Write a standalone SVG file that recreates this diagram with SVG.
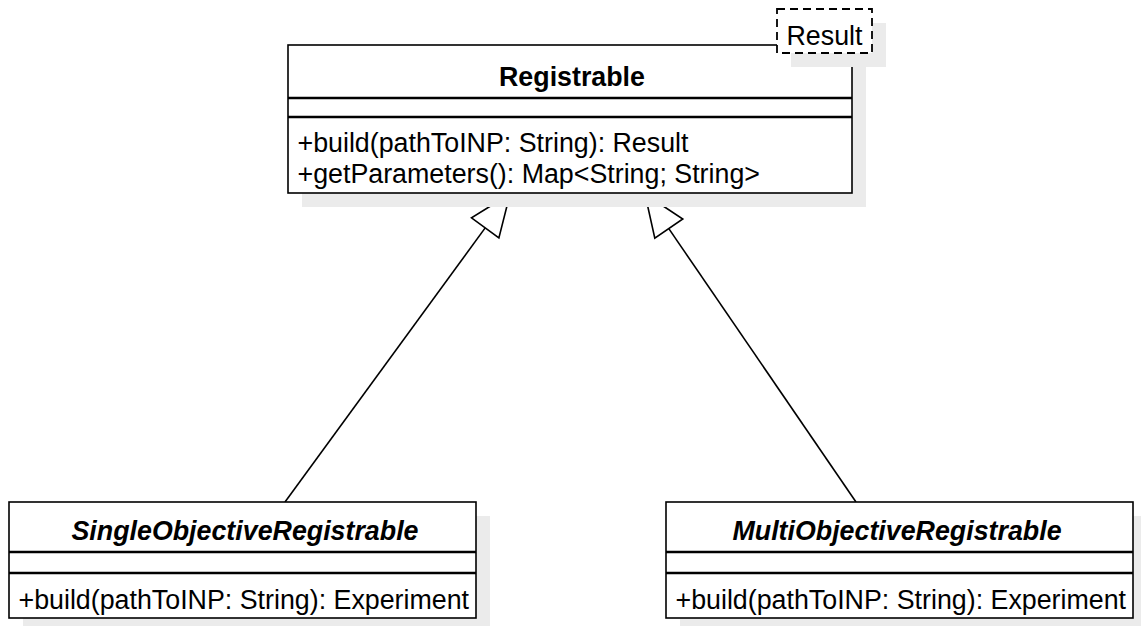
<svg xmlns="http://www.w3.org/2000/svg" width="1141" height="626" viewBox="0 0 1141 626">
<style>
.shadow{fill:#ebebeb;stroke:none}
.box{fill:#ffffff;stroke:#000000;stroke-width:1.6}
.sep{stroke:#000000;stroke-width:2.6;fill:none}
.note{fill:#ffffff;stroke:#000000;stroke-width:1.8;stroke-dasharray:8 5}
.t{font-family:"Liberation Sans",Arial,Helvetica,sans-serif;font-size:26.8px;fill:#000000}
.title{font-weight:bold;text-anchor:middle}
.ital{font-style:italic}
.edge{stroke:#000000;stroke-width:1.6;fill:none}
.head{fill:#ffffff;stroke:#000000;stroke-width:1.6;stroke-linejoin:miter}
</style>
<rect width="1141" height="626" fill="#ffffff"/>
<g id="connectors">
  <line class="edge" x1="285" y1="502" x2="485.2" y2="227.9"/>
  <polygon class="head" points="510,194 471.5,217.9 498.9,237.9"/>
  <line class="edge" x1="856" y1="502" x2="668.8" y2="228.6"/>
  <polygon class="head" points="645,194 682.8,219 654.8,238.2"/>
</g>
<g id="registrable">
  <rect class="shadow" x="302" y="59" width="564" height="148"/>
  <rect class="box" x="288" y="45" width="564" height="148"/>
  <line class="sep" x1="288" y1="98" x2="852" y2="98"/>
  <line class="sep" x1="288" y1="117" x2="852" y2="117"/>
  <text class="t title" x="572" y="86">Registrable</text>
  <text class="t" x="297.5" y="152">+build(pathToINP: String): Result</text>
  <text class="t" x="297.5" y="183">+getParameters(): Map&lt;String; String&gt;</text>
</g>
<g id="result-template">
  <rect class="shadow" x="791" y="23" width="95" height="44"/>
  <rect class="note" x="777" y="9" width="95" height="44"/>
  <text class="t" x="824.5" y="45" text-anchor="middle">Result</text>
</g>
<g id="single">
  <rect class="shadow" x="23" y="516" width="467" height="116"/>
  <rect class="box" x="9" y="502" width="467" height="116"/>
  <line class="sep" x1="9" y1="552" x2="476" y2="552"/>
  <line class="sep" x1="9" y1="573" x2="476" y2="573"/>
  <text class="t title ital" x="245" y="540">SingleObjectiveRegistrable</text>
  <text class="t" x="18.5" y="609">+build(pathToINP: String): Experiment</text>
</g>
<g id="multi">
  <rect class="shadow" x="680" y="516" width="467" height="116"/>
  <rect class="box" x="666" y="502" width="467" height="116"/>
  <line class="sep" x1="666" y1="552" x2="1133" y2="552"/>
  <line class="sep" x1="666" y1="573" x2="1133" y2="573"/>
  <text class="t title ital" x="897" y="540">MultiObjectiveRegistrable</text>
  <text class="t" x="675.5" y="609">+build(pathToINP: String): Experiment</text>
</g>
</svg>
